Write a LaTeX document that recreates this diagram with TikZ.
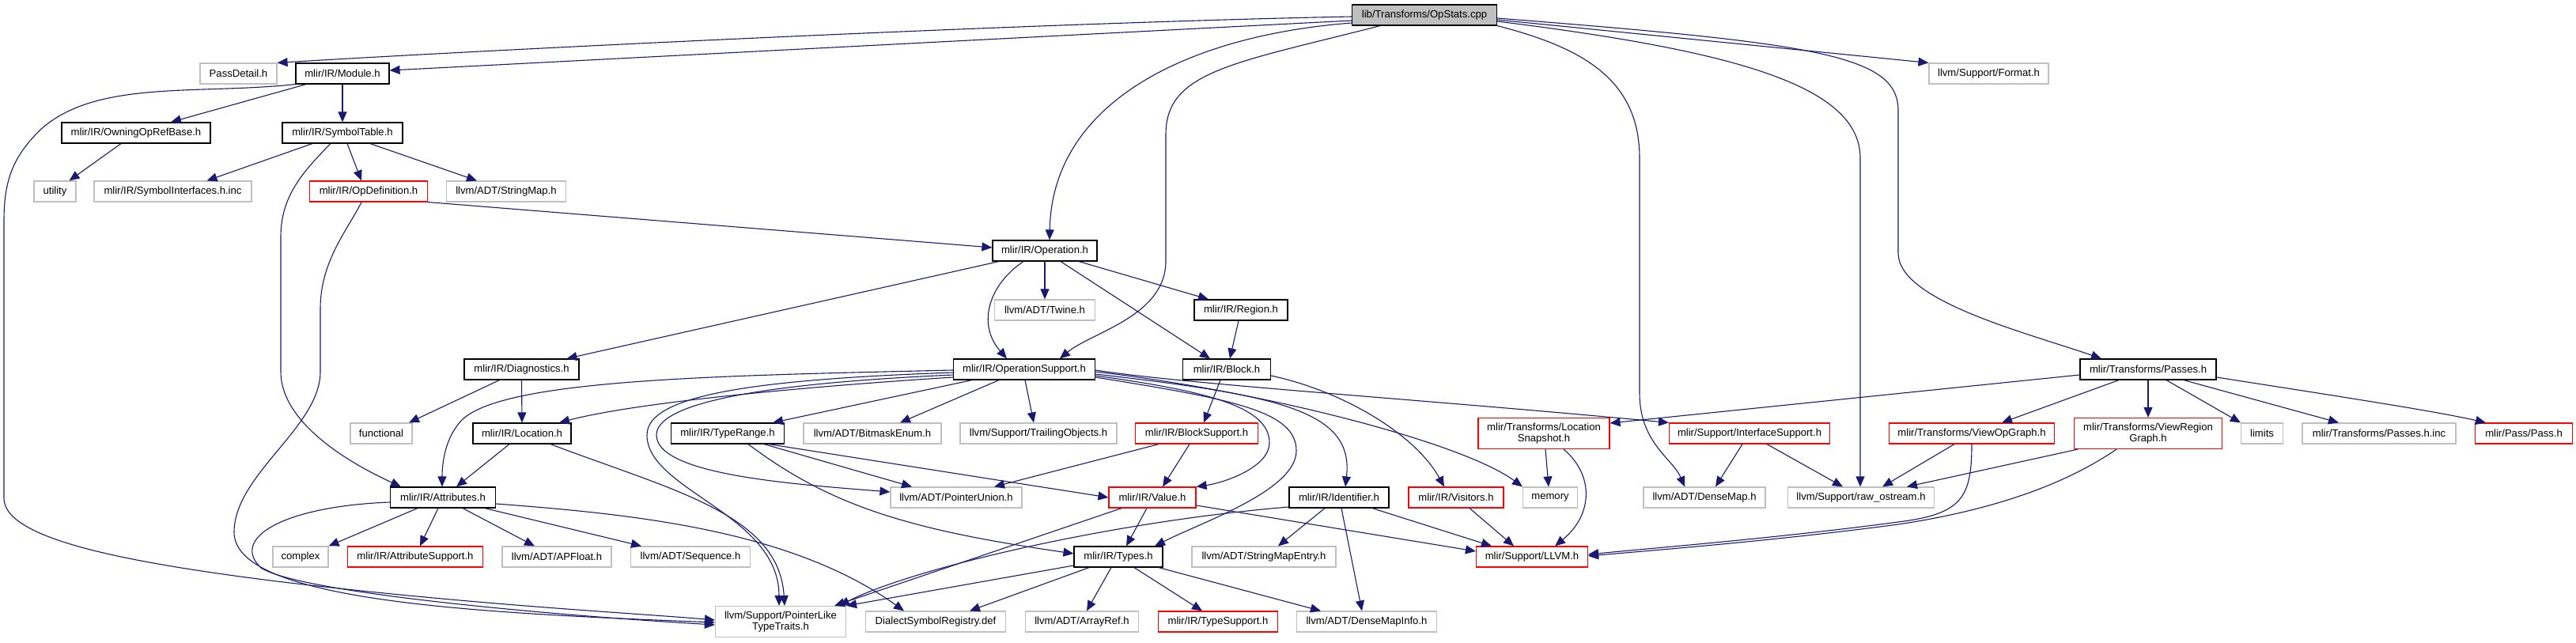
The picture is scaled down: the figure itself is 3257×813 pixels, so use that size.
\documentclass[tikz,border=0pt]{standalone}
\usepackage{fontspec}
\setmainfont{Liberation Sans}
\usetikzlibrary{arrows.meta,calc}
\definecolor{edgec}{HTML}{191970}
\definecolor{greyb}{HTML}{BFBFBF}
\tikzset{
  box/.style={draw, rectangle, minimum height=26pt, inner sep=0pt, line width=1.15pt, fill=white,
    font=\fontsize{13.1}{14.5}\selectfont, align=center},
  blk/.style={box, draw=black},
  gry/.style={box, draw=greyb},
  rd/.style={box, draw=red},
  e/.style={draw=edgec, line width=1.1pt, -{Triangle[length=13pt,width=11pt]}},
}
\begin{document}
\begin{tikzpicture}[x=1pt,y=-1pt]
\useasboundingbox (0,0) rectangle (3257,813);
% nodes
\node[blk, fill=greyb, minimum width=183pt] (opstats) at (1801,19) {lib/Transforms/OpStats.cpp};
\node[gry, minimum width=97pt] (passdetail) at (301.5,93) {PassDetail.h};
\node[blk, minimum width=118pt] (module) at (433,93) {mlir/IR/Module.h};
\node[gry, minimum width=151pt] (format) at (2514.5,93) {llvm/Support/Format.h};
\node[blk, minimum width=188pt] (owning) at (172,168) {mlir/IR/OwningOpRefBase.h};
\node[blk, minimum width=152pt] (symtab) at (433,168) {mlir/IR/SymbolTable.h};
\node[gry, minimum width=53pt] (utility) at (69.5,242) {utility};
\node[gry, minimum width=199pt] (syminc) at (218.5,242) {mlir/IR/SymbolInterfaces.h.inc};
\node[rd, minimum width=149pt] (opdef) at (466,242) {mlir/IR/OpDefinition.h};
\node[gry, minimum width=151pt] (strmap) at (640,242) {llvm/ADT/StringMap.h};
\node[blk, minimum width=132pt] (operation) at (1321,317) {mlir/IR/Operation.h};
\node[gry, minimum width=127pt] (twine) at (1321,392) {llvm/ADT/Twine.h};
\node[blk, minimum width=118pt] (region) at (1569,392) {mlir/IR/Region.h};
\node[blk, minimum width=145pt] (diag) at (659.5,467) {mlir/IR/Diagnostics.h};
\node[blk, minimum width=179pt] (opsupport) at (1295,467) {mlir/IR/OperationSupport.h};
\node[blk, minimum width=111pt] (block) at (1551,467) {mlir/IR/Block.h};
\node[blk, minimum width=172pt] (passes) at (2716,467) {mlir/Transforms/Passes.h};
\node[gry, minimum width=78pt] (functional) at (482,548) {functional};
\node[blk, minimum width=124pt] (location) at (660,548) {mlir/IR/Location.h};
\node[blk, minimum width=143pt] (typerange) at (920,548) {mlir/IR/TypeRange.h};
\node[gry, minimum width=174pt] (bitmask) at (1103,548) {llvm/ADT/BitmaskEnum.h};
\node[gry, minimum width=198pt] (trailing) at (1313,548) {llvm/Support/TrailingObjects.h};
\node[rd, minimum width=155pt] (blocksupport) at (1513,548) {mlir/IR/BlockSupport.h};
\node[rd, minimum width=166pt, minimum height=39pt] (locsnap) at (1952,548) {mlir/Transforms/Location\\Snapshot.h};
\node[rd, minimum width=203pt] (interface) at (2212,548) {mlir/Support/InterfaceSupport.h};
\node[rd, minimum width=209pt] (viewop) at (2493,548) {mlir/Transforms/ViewOpGraph.h};
\node[rd, minimum width=187pt, minimum height=39pt] (viewregion) at (2716,548) {mlir/Transforms/ViewRegion\\Graph.h};
\node[gry, minimum width=53pt] (limits) at (2860,548) {limits};
\node[gry, minimum width=194pt] (passesinc) at (3008,548) {mlir/Transforms/Passes.h.inc};
\node[rd, minimum width=123pt] (pass) at (3191,548) {mlir/Pass/Pass.h};
\node[blk, minimum width=133pt] (attributes) at (560,629) {mlir/IR/Attributes.h};
\node[gry, minimum width=166pt] (ptrunion) at (1209,629) {llvm/ADT/PointerUnion.h};
\node[rd, minimum width=110pt] (value) at (1457,629) {mlir/IR/Value.h};
\node[blk, minimum width=126pt] (identifier) at (1693,629) {mlir/IR/Identifier.h};
\node[rd, minimum width=120pt] (visitors) at (1841,629) {mlir/IR/Visitors.h};
\node[gry, minimum width=69pt] (memory) at (1960,629) {memory};
\node[gry, minimum width=154pt] (densemap) at (2155,629) {llvm/ADT/DenseMap.h};
\node[gry, minimum width=185pt] (rawos) at (2353,629) {llvm/Support/raw\_ostream.h};
\node[gry, minimum width=70pt] (complex) at (380,704) {complex};
\node[rd, minimum width=171pt] (attrsupport) at (525,704) {mlir/IR/AttributeSupport.h};
\node[gry, minimum width=138pt] (apfloat) at (704,704) {llvm/ADT/APFloat.h};
\node[gry, minimum width=151pt] (sequence) at (873,704) {llvm/ADT/Sequence.h};
\node[blk, minimum width=112pt] (types) at (1414,704) {mlir/IR/Types.h};
\node[gry, minimum width=182pt] (strmapentry) at (1598,704) {llvm/ADT/StringMapEntry.h};
\node[rd, minimum width=141pt] (llvm) at (1937,704) {mlir/Support/LLVM.h};
\node[gry, minimum width=165pt, minimum height=39pt] (ptrlike) at (987,786) {llvm/Support/PointerLike\\TypeTraits.h};
\node[gry, minimum width=177pt] (dialectreg) at (1183,786) {DialectSymbolRegistry.def};
\node[gry, minimum width=143pt] (arrayref) at (1368,786) {llvm/ADT/ArrayRef.h};
\node[rd, minimum width=151pt] (typesupport) at (1540,786) {mlir/IR/TypeSupport.h};
\node[gry, minimum width=177pt] (densemapinfo) at (1728,786) {llvm/ADT/DenseMapInfo.h};
% edges from OpStats
\draw[e] ([yshift=-2pt]opstats.west) .. controls (1300,29) and (600,64) .. (passdetail.north east);
\draw[e] ([yshift=-7pt]opstats.west) -- ([yshift=4pt]module.east);
\draw[e] ([yshift=-10pt]opstats.west) .. controls (1500,45) and (1330,130) .. ([xshift=6pt]operation.north);
\draw[e] ([xshift=-56pt]opstats.south) .. controls (1560,80) and (1474,90) .. (1474,170) -- (1474,330) .. controls (1474,400) and (1380,420) .. ([xshift=45pt]opsupport.north);
\draw[e] (opstats.south east) .. controls (2000,60) and (2073,100) .. (2073,200) -- (2073,497) .. controls (2073,560) and (2115,580) .. ([xshift=-25pt]densemap.north);
\draw[e] ([yshift=-8pt]opstats.east) .. controls (2200,65) and (2352,110) .. (2352,200) -- ([xshift=-1pt]rawos.north);
\draw[e] ([yshift=-4pt]opstats.east) .. controls (2300,55) and (2400,70) .. (2400,140) -- (2400,320) .. controls (2400,380) and (2560,420) .. ([xshift=-59pt]passes.north);
\draw[e] ([yshift=-6pt]opstats.east) -- (format.north west);
% Module
\draw[e] ([xshift=-46pt]module.south) -- ([xshift=44pt]owning.north);
\draw[e] (module.south) -- (symtab.north);
\draw[e] (module.south west) .. controls (250,120) and (120,100) .. (50,165) .. controls (15,200) and (5,230) .. (5,280) -- (5,630) .. controls (5,680) and (150,710) .. (350,735) .. controls (600,765) and (800,775) .. ([yshift=2pt]ptrlike.west);
\draw[e] ([xshift=-19pt]owning.south) -- ([xshift=18pt]utility.north);
% SymbolTable
\draw[e] ([xshift=-38pt]symtab.south) -- ([xshift=43pt]syminc.north);
\draw[e] ([xshift=6pt]symtab.south) -- ([xshift=-9pt]opdef.north);
\draw[e] ([xshift=35pt]symtab.south) -- ([xshift=-37pt]strmap.north);
\draw[e] ([xshift=-15pt]symtab.south) .. controls (380,220) and (355,250) .. (355,300) -- (355,470) .. controls (355,530) and (430,580) .. ([xshift=-53pt]attributes.north);
% OpDefinition
\draw[e] ([xshift=-9pt]opdef.south) .. controls (440,290) and (405,330) .. (405,390) -- (405,470) .. controls (405,540) and (296,600) .. (296,673) .. controls (296,760) and (600,775) .. ([yshift=-1pt]ptrlike.west);
\draw[e] (opdef.south east) -- ([yshift=4pt]operation.west);
% Operation
\draw[e] ([xshift=-58pt]operation.south) -- ([xshift=57pt]diag.north);
\draw[e] ([xshift=-27pt]operation.south) .. controls (1250,360) and (1235,410) .. ([xshift=-22pt]opsupport.north);
\draw[e] (operation.south) -- (twine.north);
\draw[e] ([xshift=20pt]operation.south) -- ([xshift=-21pt]block.north);
\draw[e] ([xshift=43pt]operation.south) -- ([xshift=-41pt]region.north);
\draw[e] ([xshift=-3pt]region.south) -- ([xshift=4pt]block.north);
% Diagnostics
\draw[e] ([xshift=-28pt]diag.south) -- ([xshift=35pt]functional.north);
\draw[e] (diag.south) -- (location.north);
% OperationSupport
\draw[e] ([yshift=-10pt]opsupport.west) .. controls (1000,490) and (800,510) .. ([xshift=47pt]location.north);
\draw[e] ([yshift=-1pt]opsupport.west) .. controls (900,475) and (640,480) .. (585,530) .. controls (565,550) and (559,580) .. ([xshift=-1pt]attributes.north);
\draw[e] ([xshift=-66pt]opsupport.south) -- ([xshift=57pt]typerange.north);
\draw[e] ([xshift=-32pt]opsupport.south) -- ([xshift=35pt]bitmask.north);
\draw[e] ([xshift=1pt]opsupport.south) -- ([xshift=-6pt]trailing.north);
\draw[e] ([yshift=-4pt]opsupport.west) .. controls (950,480) and (818,500) .. (818,550) .. controls (818,620) and (985,650) .. ([xshift=-2pt]ptrlike.north);
\draw[e] ([yshift=-7pt]opsupport.west) .. controls (960,485) and (830,510) .. (830,550) .. controls (830,600) and (1000,612) .. ([yshift=7pt]ptrunion.west);
\draw[e] ([yshift=-8pt]opsupport.east) .. controls (1530,495) and (1605,515) .. (1605,560) .. controls (1605,590) and (1550,610) .. (value.north east);
\draw[e] ([yshift=-10pt]opsupport.east) .. controls (1560,505) and (1639,520) .. (1639,570) .. controls (1639,620) and (1520,660) .. ([xshift=46pt]types.north);
\draw[e] ([yshift=-6pt]opsupport.east) .. controls (1620,500) and (1712,520) .. ([xshift=8pt]identifier.north);
\draw[e] ([yshift=-3pt]opsupport.east) .. controls (1600,495) and (1850,560) .. (memory.north west);
\draw[e] ([yshift=-1pt]opsupport.east) .. controls (1500,486) and (1800,505) .. (interface.north west);
% Location
\draw[e] ([xshift=-16pt]location.south) -- ([xshift=17pt]attributes.north);
\draw[e] ([xshift=36pt]location.south) .. controls (850,620) and (985,650) .. ([xshift=5pt]ptrlike.north);
% Attributes
\draw[e] ([xshift=-32pt]attributes.south) -- (complex.north east);
\draw[e] ([xshift=-6pt]attributes.south) -- ([xshift=6pt]attrsupport.north);
\draw[e] ([xshift=25pt]attributes.south) -- ([xshift=-28pt]apfloat.north);
\draw[e] ([xshift=53pt]attributes.south) -- ([xshift=-62pt]sequence.north);
\draw[e] ([yshift=-8pt]attributes.east) .. controls (800,650) and (1000,670) .. ([xshift=-40pt]dialectreg.north);
\draw[e] ([yshift=-6pt]attributes.west) .. controls (360,640) and (290,680) .. (330,718) .. controls (380,750) and (700,778) .. ([yshift=-4pt]ptrlike.west);
% TypeRange
\draw[e] ([xshift=46pt]typerange.south) -- ([xshift=-56pt]ptrunion.north);
\draw[e] ([xshift=52pt]typerange.south) -- (value.west);
\draw[e] ([xshift=26pt]typerange.south) .. controls (1050,640) and (1150,670) .. ([yshift=4pt]types.west);
% Block / BlockSupport
\draw[e] ([xshift=-8pt]block.south) -- ([xshift=9pt]blocksupport.north);
\draw[e] ([yshift=-8pt]block.east) .. controls (1700,495) and (1790,550) .. ([xshift=-15pt]visitors.north);
\draw[e] ([xshift=-9pt]blocksupport.south) -- ([xshift=13pt]value.north);
\draw[e] ([xshift=-48pt]blocksupport.south) -- ([xshift=48pt]ptrunion.north);
% Value
\draw[e] ([xshift=-7pt]value.south) -- ([xshift=10pt]types.north);
\draw[e] ([xshift=-39pt]value.south) -- ([xshift=68pt]ptrlike.north);
\draw[e] ([yshift=-10pt]value.east) -- ([yshift=7pt]llvm.west);
% Types
\draw[e] ([yshift=-11pt]types.west) -- (ptrlike.north east);
\draw[e] ([xshift=-37pt]types.south) -- ([xshift=43pt]dialectreg.north);
\draw[e] ([xshift=-9pt]types.south) -- ([xshift=6pt]arrayref.north);
\draw[e] ([xshift=20pt]types.south) -- ([xshift=-20pt]typesupport.north);
\draw[e] ([xshift=51pt]types.south) -- ([xshift=-58pt]densemapinfo.north);
% Identifier
\draw[e] ([xshift=42pt]identifier.south) -- ([xshift=-51pt]llvm.north);
\draw[e] ([xshift=-18pt]identifier.south) -- ([xshift=18pt]strmapentry.north);
\draw[e] ([xshift=3pt]identifier.south) -- ([xshift=-6pt]densemapinfo.north);
\draw[e] ([yshift=-12pt]identifier.west) .. controls (1400,660) and (1150,720) .. ([xshift=74pt]ptrlike.north);
% Visitors, LocationSnapshot, InterfaceSupport
\draw[e] ([xshift=17pt]visitors.south) -- ([xshift=-23pt]llvm.north);
\draw[e] ([xshift=2pt]locsnap.south) -- ([xshift=-2pt]memory.north);
\draw[e] ([xshift=25pt]locsnap.south) .. controls (2015,600) and (2015,650) .. ([xshift=29pt]llvm.north);
\draw[e] ([xshift=-9pt]interface.south) -- ([xshift=14pt]densemap.north);
\draw[e] ([xshift=22pt]interface.south) -- ([xshift=-23pt]rawos.north);
% ViewOpGraph, ViewRegionGraph
\draw[e] ([xshift=-22pt]viewop.south) -- ([xshift=27pt]rawos.north);
\draw[e] (viewop.south) .. controls (2493,630) and (2480,650) .. (2400,660) .. controls (2250,680) and (2100,692) .. ([yshift=3pt]llvm.east);
\draw[e] ([xshift=-89pt]viewregion.south) -- ([xshift=58pt]rawos.north);
\draw[e] ([xshift=-40pt]viewregion.south) .. controls (2600,620) and (2500,648) .. (2400,663) .. controls (2250,683) and (2100,695) .. ([yshift=1pt]llvm.east);
% Passes
\draw[e] ([yshift=-7pt]passes.west) -- ([yshift=13pt]locsnap.east);
\draw[e] ([xshift=-37pt]passes.south) -- ([xshift=38pt]viewop.north);
\draw[e] (passes.south) -- (viewregion.north);
\draw[e] ([xshift=23pt]passes.south) -- (limits.north west);
\draw[e] ([xshift=45pt]passes.south) -- ([xshift=-51pt]passesinc.north);
\draw[e] ([yshift=-10pt]passes.east) .. controls (2950,500) and (3080,520) .. ([xshift=-48pt]pass.north);
\end{tikzpicture}
\end{document}
